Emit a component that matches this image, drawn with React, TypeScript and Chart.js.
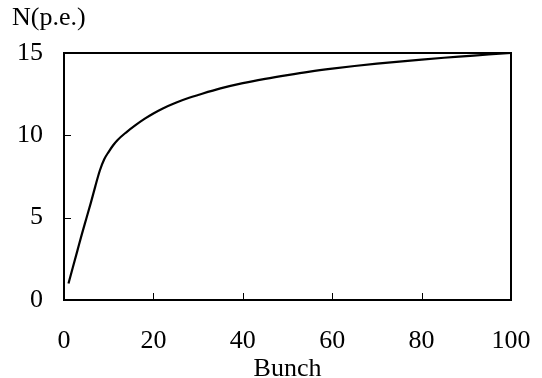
import React, { useEffect, useRef } from "react";
import { Chart, registerables } from "chart.js";

Chart.register(...registerables);

const bunch = [1, 2, 3, 4, 5, 6, 7, 8, 9, 10, 11, 12, 14, 16, 18, 20, 22, 25, 28, 30, 35, 40, 45, 50, 55, 60, 65, 70, 75, 80, 85, 90, 95, 100];
const npe = [1.0, 2.0, 3.0, 4.0, 4.95, 5.9, 6.9, 7.85, 8.55, 9.0, 9.4, 9.72, 10.2, 10.62, 11.0, 11.33, 11.62, 11.98, 12.28, 12.45, 12.85, 13.17, 13.43, 13.66, 13.87, 14.05, 14.21, 14.35, 14.48, 14.6, 14.71, 14.81, 14.91, 15.0];
const xTicks = [0, 20, 40, 60, 80, 100];
const yTicks = [0, 5, 10, 15];
const yTitle = "N(p.e.)";
const xTitle = "Bunch";

const FONT = "'Liberation Serif', 'Times New Roman', serif";
const FS = 26;

const framePlugin = {
  id: "frame",
  afterDraw(chart: any) {
    const { ctx, chartArea } = chart;
    const xs = chart.scales.x;
    const ys = chart.scales.y;
    ctx.save();
    ctx.strokeStyle = "#000";
    ctx.lineWidth = 1;
    ctx.beginPath();
    xTicks.slice(1, -1).forEach((v) => {
      const px = Math.round(xs.getPixelForValue(v)) + 0.5;
      ctx.moveTo(px, chartArea.bottom);
      ctx.lineTo(px, chartArea.bottom - 7);
    });
    yTicks.slice(1, -1).forEach((v) => {
      const py = Math.round(ys.getPixelForValue(v)) + 0.5;
      ctx.moveTo(chartArea.left, py);
      ctx.lineTo(chartArea.left + 7, py);
    });
    ctx.stroke();
    ctx.lineWidth = 2;
    ctx.strokeRect(chartArea.left, chartArea.top, chartArea.right - chartArea.left, chartArea.bottom - chartArea.top);
    ctx.fillStyle = "#000";
    ctx.font = `${FS}px ${FONT}`;
    ctx.textBaseline = "alphabetic";
    ctx.textAlign = "left";
    ctx.fillText(yTitle, 12, 25);
    ctx.textAlign = "center";
    ctx.fillText(xTitle, (chartArea.left + chartArea.right) / 2, 376);
    ctx.restore();
  },
};

export default function App() {
  const ref = useRef<HTMLCanvasElement>(null);
  useEffect(() => {
    document.body.style.margin = "0";
    const chart = new Chart(ref.current!, {
      type: "line",
      data: {
        datasets: [
          {
            data: bunch.map((b, i) => ({ x: b, y: npe[i] })),
            borderColor: "#000",
            borderWidth: 2.2,
            pointRadius: 0,
            fill: false,
            cubicInterpolationMode: "monotone",
          },
        ],
      },
      options: {
        animation: false,
        responsive: false,
        layout: { padding: { left: 0, right: 31, top: 53, bottom: 0 } },
        plugins: { legend: { display: false }, tooltip: { enabled: false } },
        scales: {
          x: {
            type: "linear",
            min: 0,
            max: 100,
            afterFit: (s: any) => {
              s.height = 78;
              s.paddingLeft = 0;
              s.paddingRight = 0;
            },
            afterBuildTicks: (s: any) => {
              s.ticks = xTicks.map((v) => ({ value: v }));
            },
            grid: { display: false, drawTicks: false },
            border: { display: false },
            ticks: {
              color: "#000",
              padding: 26,
              maxRotation: 0,
              font: { family: FONT, size: FS },
            },
          },
          y: {
            type: "linear",
            min: 0,
            max: 15,
            afterFit: (s: any) => {
              s.width = 64;
              s.paddingTop = 0;
              s.paddingBottom = 0;
            },
            afterBuildTicks: (s: any) => {
              s.ticks = yTicks.map((v) => ({ value: v }));
            },
            grid: { display: false, drawTicks: false },
            border: { display: false },
            ticks: {
              color: "#000",
              padding: 21,
              font: { family: FONT, size: FS },
            },
          },
        },
      },
      plugins: [framePlugin],
    });
    return () => chart.destroy();
  }, []);
  return <canvas ref={ref} width={542} height={378} style={{ display: "block" }} />;
}
